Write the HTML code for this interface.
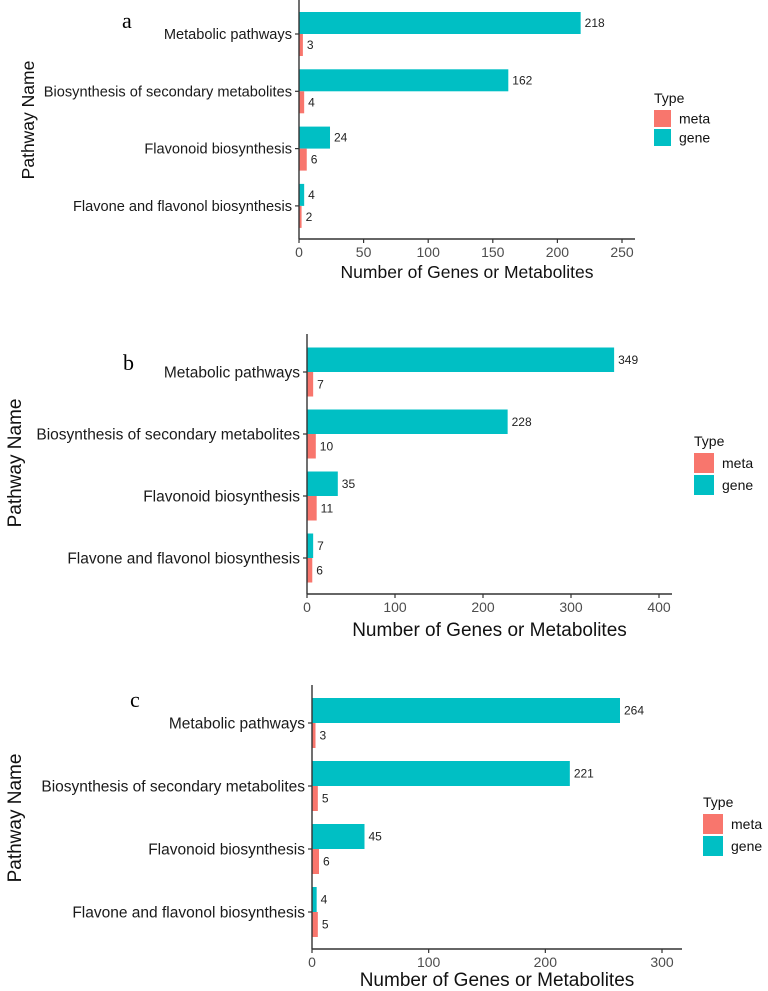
<!DOCTYPE html>
<html><head><meta charset="utf-8"><style>
html,body{margin:0;padding:0;background:#fff;}
svg{display:block;font-family:"Liberation Sans",sans-serif;}
</style></head><body>
<svg id="chart" width="768" height="991" viewBox="0 0 768 991"></svg>
<script>
const categories = ["Metabolic pathways","Biosynthesis of secondary metabolites","Flavonoid biosynthesis","Flavone and flavonol biosynthesis"];
const geneA = [218,162,24,4];
const metaA = [3,4,6,2];
const geneB = [349,228,35,7];
const metaB = [7,10,11,6];
const geneC = [264,221,45,4];
const metaC = [3,5,6,5];
const ticksA = [0,50,100,150,200,250];
const ticksB = [0,100,200,300,400];
const ticksC = [0,100,200,300];
const panelLetters = ["a","b","c"];

const NS="http://www.w3.org/2000/svg";
const svg=document.getElementById('chart');
function mk(tag,attrs,parent){const e=document.createElementNS(NS,tag);for(const k in attrs)e.setAttribute(k,attrs[k]);(parent||svg).appendChild(e);return e;}

const panels=[
 {gene:geneA,meta:metaA,ticks:ticksA,x0:299,unit:323/250,xEnd:635,top:0,bottom:239,c0:34,step:57.3,bh:22,lf:14.6,tf:17.5,ytx:28,yty:120,letter:[122,28],leg:[654,103,17],tb:278},
 {gene:geneB,meta:metaB,ticks:ticksB,x0:307,unit:352/400,xEnd:672,top:334,bottom:594,c0:372,step:62,bh:24.5,lf:15.5,tf:19,ytx:15,yty:463,letter:[123,370],leg:[694,446,20],tb:636},
 {gene:geneC,meta:metaC,ticks:ticksC,x0:312,unit:350/300,xEnd:682,top:685,bottom:949,c0:723,step:63,bh:25,lf:15.5,tf:19,ytx:15,yty:818,letter:[130,707],leg:[703,807,20],tb:986}
];

panels.forEach((p,pi)=>{
 const g=mk('g',{});
 
 
 const xs=v=>p.x0+v*p.unit;
 const yc=i=>p.c0+i*p.step;
 categories.forEach((c,i)=>{
  const gv=p.gene[i], mv=p.meta[i];
  const gb=mk('rect',{x:xs(0),y:yc(i)-p.bh,width:xs(gv)-xs(0),height:p.bh,fill:'#00BFC4'},g);
  
  
  const mb=mk('rect',{x:xs(0),y:yc(i),width:xs(mv)-xs(0),height:p.bh,fill:'#F8766D'},g);
  
  
  const gl=mk('text',{x:xs(gv)+4,y:yc(i)-p.bh/2+4,'font-size':12,fill:'#222'},g);gl.textContent=gv;
  
  
  const ml=mk('text',{x:xs(mv)+4,y:yc(i)+p.bh/2+4,'font-size':12,fill:'#222'},g);ml.textContent=mv;
  
  
  const cl=mk('text',{x:p.x0-7,y:yc(i)+p.lf*0.35,'font-size':p.lf,'text-anchor':'end',fill:'#1a1a1a'},g);cl.textContent=c;
  
  
  mk('line',{x1:p.x0-4,x2:p.x0,y1:yc(i),y2:yc(i),stroke:'#333','stroke-width':1.2},g);
 });
 mk('line',{x1:p.x0,x2:p.x0,y1:p.top,y2:p.bottom,stroke:'#333','stroke-width':1.4},g);
 mk('line',{x1:p.x0,x2:p.xEnd,y1:p.bottom,y2:p.bottom,stroke:'#333','stroke-width':1.4},g);
 p.ticks.forEach(t=>{
  mk('line',{x1:xs(t),x2:xs(t),y1:p.bottom,y2:p.bottom+4,stroke:'#333','stroke-width':1.2},g);
  const tl=mk('text',{x:xs(t),y:p.bottom+18,'font-size':14,'text-anchor':'middle',fill:'#4d4d4d'},g);tl.textContent=t;
  
  
 });
 const xt=mk('text',{x:(p.x0+p.xEnd)/2,y:p.tb,'font-size':p.tf,'text-anchor':'middle',fill:'#111'},g);xt.textContent='Number of Genes or Metabolites';
 
 
 const yt=mk('text',{x:p.ytx+6,y:p.yty,'font-size':p.tf,'text-anchor':'middle',fill:'#111',transform:`rotate(-90 ${p.ytx+6} ${p.yty})`},g);yt.textContent='Pathway Name';
 
 
 const lt=mk('text',{x:p.letter[0],y:p.letter[1],'font-size':22,'font-family':'Liberation Serif, serif',fill:'#000'},g);lt.textContent=panelLetters[pi];
 
 
 const [lx,ly,ks]=p.leg;
 const lg=mk('g',{},g);
 
 
 const ttl=mk('text',{x:lx,y:ly,'font-size':14,fill:'#111'},lg);ttl.textContent='Type';
 mk('rect',{x:lx,y:ly+7,width:ks,height:ks,fill:'#F8766D'},lg);
 mk('rect',{x:lx,y:ly+9+ks,width:ks,height:ks,fill:'#00BFC4'},lg);
 const m=mk('text',{x:lx+ks+8,y:ly+7+ks/2+5,'font-size':14,fill:'#111'},lg);m.textContent='meta';
 
 
 const ge=mk('text',{x:lx+ks+8,y:ly+9+ks*1.5+5,'font-size':14,fill:'#111'},lg);ge.textContent='gene';
 
 
});
</script>
</body></html>
